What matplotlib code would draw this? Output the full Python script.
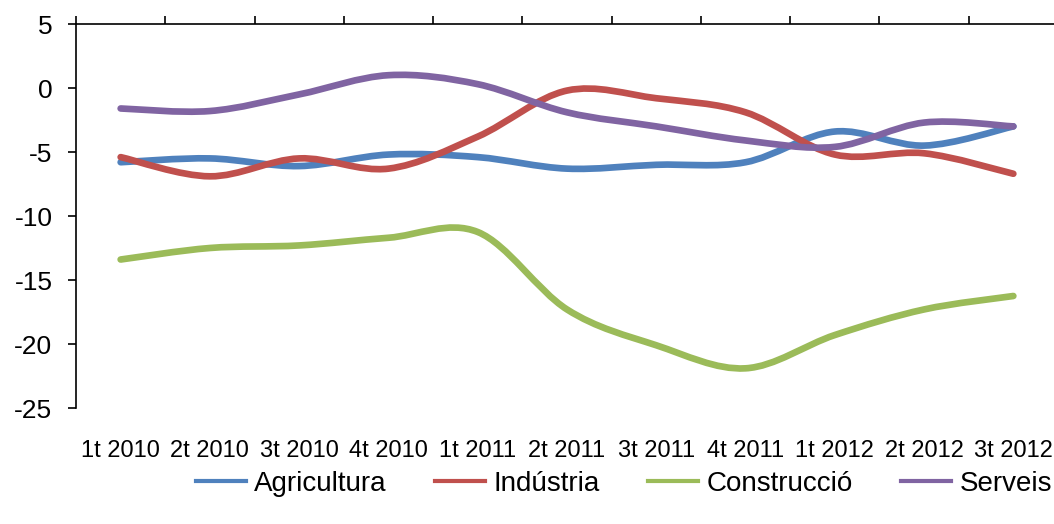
import numpy as np
import matplotlib.pyplot as plt
from matplotlib.path import Path
from matplotlib.patches import PathPatch
from matplotlib.lines import Line2D

plt.rcParams['font.family'] = ['Liberation Sans', 'DejaVu Sans']
plt.rcParams['axes.unicode_minus'] = False

# quarters
quarters = ['1t 2010', '2t 2010', '3t 2010', '4t 2010', '1t 2011', '2t 2011',
            '3t 2011', '4t 2011', '1t 2012', '2t 2012', '3t 2012']

# values per sector
agricultura = [-5.8, -5.5, -6.1, -5.2, -5.4, -6.3, -6.0, -5.8, -3.4, -4.5, -3.0]
industria = [-5.4, -6.9, -5.5, -6.3, -3.8, -0.2, -0.8, -1.9, -5.2, -5.1, -6.7]
construccio = [-13.4, -12.5, -12.3, -11.7, -11.25, -17.3, -20.1, -21.9, -19.3, -17.3, -16.25]
serveis = [-1.6, -1.8, -0.5, 1.0, 0.3, -1.9, -3.0, -4.1, -4.6, -2.7, -3.0]

names = ['Agricultura', 'Indústria', 'Construcció', 'Serveis']
colors = ['#4F81BD', '#C0504D', '#9BBB59', '#8064A2']
series = [agricultura, industria, construccio, serveis]


def smooth_path(xs, ys):
    # Excel-like smoothed line: cubic bezier through every point
    pts = np.column_stack([xs, ys]).astype(float)
    n = len(pts)
    verts = [pts[0]]
    codes = [Path.MOVETO]
    for i in range(n - 1):
        p0 = pts[i - 1] if i > 0 else pts[i]
        p1 = pts[i]
        p2 = pts[i + 1]
        p3 = pts[i + 2] if i + 2 < n else pts[i + 1]
        c1 = p1 + (p2 - p0) / 6.0
        c2 = p2 - (p3 - p1) / 6.0
        verts += [c1, c2, p2]
        codes += [Path.CURVE4] * 3
    return Path(verts, codes)


fig = plt.figure(figsize=(10.54, 5.24), dpi=100)
ax = fig.add_axes([76 / 1054, 116 / 524, 982 / 1054, 384 / 524])

x = np.arange(len(quarters))
for vals, c in zip(series, colors):
    patch = PathPatch(smooth_path(x, vals), facecolor='none', edgecolor=c,
                      lw=4.8, capstyle='round', joinstyle='round')
    ax.add_patch(patch)

ax.set_xlim(-0.5, len(quarters) - 0.5)
ax.set_ylim(-25, 5)
ax.set_yticks(np.arange(-25, 6, 5))

# category labels at the bottom, tick marks on the top axis
ax.set_xticks(x)
ax.set_xticklabels(quarters, fontsize=17)
ax.tick_params(axis='x', which='major', length=0, pad=23, bottom=True, top=False)
ax.set_xticks(np.arange(-0.5, len(quarters), 1), minor=True)
ax.tick_params(axis='x', which='minor', top=True, bottom=False, direction='out',
               length=6, width=1.2, color='black')
ax.tick_params(axis='y', direction='out', length=6, width=1.2, labelsize=19, pad=11)

ax.spines['bottom'].set_visible(False)
ax.spines['right'].set_visible(False)
ax.spines['top'].set_linewidth(1.2)
ax.spines['left'].set_linewidth(1.2)

handles = [Line2D([0], [0], color=c, lw=3.0) for c in colors]
fig.legend(handles, names, loc='center', bbox_to_anchor=(0.592, 40 / 524),
           ncol=4, frameon=False, fontsize=20, handlelength=1.8,
           handletextpad=0.3, columnspacing=1.75)

fig.savefig('out.png', dpi=100)
